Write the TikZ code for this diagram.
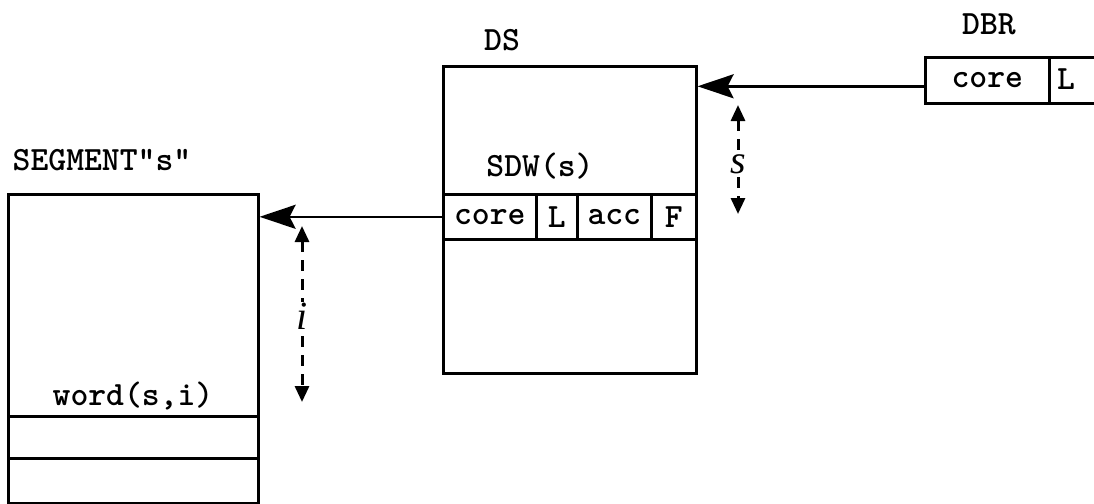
\documentclass[tikz,border=0pt]{standalone}
\usepackage{fontspec}
\setmainfont{lmmono10-regular.otf}[BoldFont=lmmonolt10-bold.otf, Ligatures=TeXOff]
\newfontfamily\hand{Liberation Serif}
\usetikzlibrary{arrows.meta}
\begin{document}
\begin{tikzpicture}[x=0.5pt,y=-0.5pt,
  box/.style={draw, line width=1.3pt, inner sep=0pt, anchor=north west, font=\fontsize{17}{20}\selectfont\bfseries},
  lbl/.style={font=\fontsize{17}{20}\selectfont\bfseries, inner sep=0pt},
  ptr/.style={line width=1.3pt, -{Stealth[length=18pt,width=12pt,inset=3pt]}},
  dim/.style={line width=1.5pt, dash pattern=on 5.5pt off 4pt, {Triangle[length=8pt,width=7pt]}-{Triangle[length=8pt,width=7pt]}},
  hw/.style={font=\hand\itshape\fontsize{20}{22}\selectfont, fill=white, inner sep=0.5pt},
]
\useasboundingbox (0,0) rectangle (1094,504);
\clip (0,0) rectangle (1094,504);
\fill[white] (0,0) rectangle (1094,504);

% DS
\node[lbl] (dslbl) at (502,40) {DS};
\node[box, minimum width=126.5pt, minimum height=153.5pt] (ds) at (442,65) {};
\node[lbl] (sdwlbl) at (540,166) {SDW(s)};
\node[box, minimum width=46.5pt, minimum height=22.5pt] (sdwcore) at (442,193) {core};
\node[box, minimum width=20.5pt, minimum height=22.5pt] (sdwL) at (535,193) {L};
\node[box, minimum width=37pt, minimum height=22.5pt] (sdwacc) at (576,193) {acc};
\node[box, minimum width=22.5pt, minimum height=22.5pt] (sdwF) at (650,193) {F};

% DBR
\node[lbl] (dbrlbl) at (989,24) {DBR};
\node[box, minimum width=62pt, minimum height=23pt] (dbrcore) at (924,56) {core};
\node[box, minimum width=40pt, minimum height=23pt] (dbrL) at (1048,56) {};
\node[lbl] (dbrLt) at (1066,79) {L};

% Segment
\node[lbl] (seglbl) at (102,160) {SEGMENT"s"};
\node[box, minimum width=125pt, minimum height=154.5pt] (seg) at (7,193) {};
\node[lbl] (wordlbl) at (133,396) {word(s,i)};
\node[box, minimum width=125pt, minimum height=21pt] (row1) at (7,415) {};
\node[box, minimum width=125pt, minimum height=22.5pt] (row2) at (7,457) {};

% pointers
\draw[ptr] ([yshift=-3pt]dbrcore.west) -- ([yshift=-3pt]dbrcore.west -| ds.east);
\draw[ptr] (sdwcore.west) -- (sdwcore.west -| seg.east);

% offsets
\coordinate (sa) at (738,105);
\coordinate (sb) at (738,214);
\draw[dim] (sa) -- (sb);
\node[hw] (slbl) at (738,164) {s};
\coordinate (ia) at (302,226);
\coordinate (ib) at (302,402);
\draw[dim] (ia) -- (ib);
\node[hw] (ilbl) at (302,316) {i};
\end{tikzpicture}
\end{document}
